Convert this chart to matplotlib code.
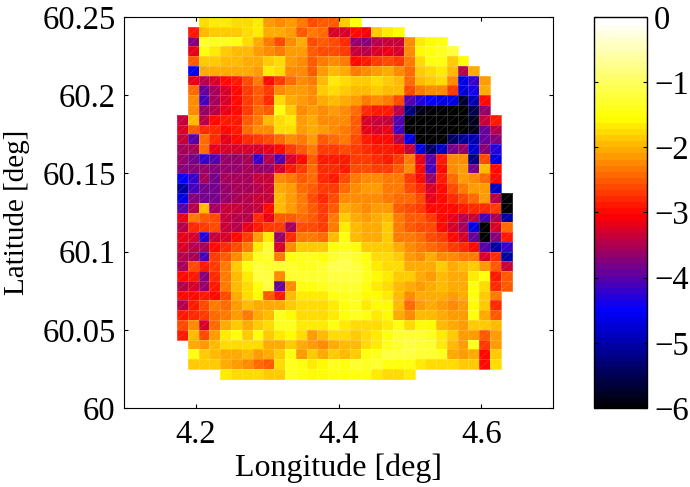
import numpy as np
import matplotlib
matplotlib.use('Agg')
import matplotlib.pyplot as plt
from matplotlib.colors import LinearSegmentedColormap
from matplotlib.collections import LineCollection

plt.rcParams['font.family'] = ['Liberation Serif', 'DejaVu Serif']

# grid of the map
lon_start = 4.1741
lon_step = 0.0151
lat_top = 60.25
lat_step = 0.00625
n_cols = 31

# first filled column of each row, from the top row down
first_col = [2] + [1] * 9 + [0] * 23 + [1] * 3 + [4]

# log values, top row first
rows = [
    [-1.75,-1.6,-1.65,-1.7,-1.7,-1.6,-2.1,-2.2,-2.15,-2.3,-2.6,-2.5,-2.5,-1.8,-1.5],
    [-2.9,-1.9,-1.8,-1.85,-1.8,-1.75,-1.65,-2.0,-2.0,-2.1,-2.5,-2.3,-2.4,-3.2,-3.2,-3.0,-3.05,-1.8,-1.6,-1.55],
    [-3.7,-1.3,-1.35,-1.4,-1.45,-1.7,-2.0,-2.3,-2.55,-2.2,-2.0,-2.6,-2.5,-2.6,-2.75,-3.6,-3.7,-3.4,-3.3,-3.3,-2.2,-1.6,-1.55,-1.45],
    [-3.1,-1.5,-1.6,-1.85,-1.9,-1.9,-2.1,-2.2,-2.3,-2.1,-2.1,-2.5,-2.6,-2.6,-2.7,-3.3,-3.4,-3.2,-3.15,-3.2,-2.2,-1.55,-1.5,-1.4,-1.2],
    [-2.5,-1.8,-1.85,-1.95,-1.95,-2.0,-2.0,-1.85,-1.75,-2.1,-2.2,-2.5,-2.3,-2.2,-2.3,-2.95,-2.9,-2.7,-2.6,-2.7,-2.3,-1.7,-1.5,-1.5,-1.85,-1.55],
    [-4.55,-2.0,-2.0,-2.05,-2.0,-2.05,-2.1,-1.6,-1.7,-2.2,-2.2,-2.5,-2.1,-1.9,-2.0,-2.3,-2.2,-2.1,-2.05,-2.2,-2.4,-1.8,-1.7,-1.6,-1.9,-3.4,-2.0],
    [-3.1,-3.4,-3.2,-3.0,-2.9,-2.6,-2.3,-3.0,-2.7,-2.4,-2.2,-2.3,-1.9,-1.6,-1.75,-1.8,-1.85,-1.75,-1.8,-1.9,-2.4,-1.9,-1.85,-1.75,-2.2,-4.6,-4.2,-2.1],
    [-2.4,-3.9,-3.5,-3.2,-3.0,-2.7,-2.5,-2.7,-2.2,-2.1,-2.1,-2.2,-1.8,-1.7,-1.85,-1.95,-1.9,-1.85,-1.9,-1.95,-2.6,-2.3,-2.2,-2.2,-2.7,-4.7,-4.4,-2.0],
    [-2.2,-4.1,-3.5,-3.2,-3.0,-2.7,-2.5,-2.8,-1.75,-2.05,-2.1,-2.2,-2.0,-1.9,-2.0,-2.1,-2.3,-2.2,-2.3,-2.6,-4.0,-4.3,-4.5,-4.6,-4.6,-5.7,-4.9,-3.0],
    [-2.2,-3.6,-3.4,-3.15,-2.95,-2.7,-2.4,-2.5,-1.5,-1.85,-2.2,-2.1,-2.2,-2.1,-2.2,-2.4,-2.8,-2.85,-2.9,-3.4,-5.2,-5.9,-6,-6,-6,-6,-5.5,-3.6],
    [-3.3,-1.9,-3.4,-3.0,-2.9,-2.9,-2.5,-2.3,-1.95,-1.7,-1.65,-2.1,-2.0,-2.2,-2.2,-2.2,-2.5,-3.2,-3.3,-3.3,-4.0,-6,-6,-6,-6,-6,-6,-5.8,-3.3,-2.9],
    [-3.2,-2.5,-2.8,-2.8,-2.95,-2.9,-2.4,-2.2,-2.2,-1.75,-1.75,-2.1,-2.0,-2.1,-2.2,-2.3,-2.5,-3.1,-3.2,-3.1,-4.1,-6,-6,-6,-6,-6,-6,-5.9,-3.9,-3.4],
    [-3.3,-4.0,-2.4,-2.8,-3.1,-3.0,-2.8,-2.7,-2.6,-2.4,-2.2,-2.3,-2.1,-2.5,-2.4,-2.3,-2.6,-2.9,-3.0,-3.0,-3.4,-4.6,-6,-6,-6,-5.4,-5.1,-4.9,-3.9,-3.7],
    [-3.5,-3.5,-2.4,-3.1,-3.2,-3.2,-3.2,-3.2,-3.1,-2.95,-2.7,-2.5,-2.3,-2.7,-2.7,-2.6,-2.7,-2.8,-2.9,-2.9,-3.0,-3.3,-4.6,-5.4,-4.8,-3.8,-3.6,-4.7,-3.7,-4.3],
    [-3.6,-3.8,-4.2,-4.0,-3.6,-3.6,-3.5,-4.2,-3.4,-4.0,-3.2,-3.0,-2.5,-2.9,-2.9,-2.85,-2.7,-2.7,-2.8,-2.85,-2.7,-2.3,-3.1,-4.0,-2.9,-2.2,-2.2,-5.2,-2.6,-4.6],
    [-3.7,-3.7,-3.6,-3.7,-3.6,-3.6,-3.5,-3.6,-3.6,-3.2,-2.9,-2.7,-2.4,-2.8,-2.8,-2.9,-2.6,-2.6,-2.7,-2.7,-2.5,-2.2,-3.0,-4.1,-2.95,-2.2,-2.1,-3.8,-1.9,-3.0],
    [-4.5,-4.2,-3.5,-3.8,-3.5,-3.5,-3.5,-3.3,-3.3,-2.2,-2.3,-2.5,-2.4,-2.8,-2.85,-2.6,-2.3,-2.2,-2.2,-2.3,-2.3,-2.7,-2.95,-3.6,-2.9,-2.4,-2.1,-2.2,-2.4,-3.0],
    [-5.0,-4.1,-3.8,-3.8,-3.6,-3.5,-3.5,-3.4,-3.3,-2.0,-2.1,-2.4,-2.5,-2.7,-2.7,-2.4,-2.2,-2.1,-2.15,-2.3,-2.3,-2.6,-2.8,-3.2,-3.0,-2.6,-2.3,-2.1,-2.1,-4.8],
    [-4.6,-3.7,-3.8,-3.8,-3.6,-3.5,-3.4,-3.3,-3.3,-1.9,-2.1,-2.3,-2.6,-2.8,-2.6,-2.25,-2.2,-2.25,-2.2,-2.3,-2.4,-2.4,-2.6,-3.1,-2.95,-2.75,-2.55,-2.35,-2.1,-3.4,-6],
    [-4.0,-3.4,-1.9,-3.5,-3.3,-3.3,-3.4,-3.3,-3.0,-1.9,-2.1,-2.3,-2.5,-2.7,-2.5,-2.0,-2.1,-2.2,-2.15,-2.1,-2.5,-2.6,-2.7,-3.0,-3.0,-3.0,-2.9,-2.8,-2.8,-2.7,-6],
    [-3.1,-2.3,-2.5,-2.6,-3.3,-3.4,-3.4,-2.8,-3.1,-2.5,-2.5,-2.4,-2.5,-2.7,-2.3,-1.85,-2.0,-2.1,-2.0,-1.9,-2.3,-2.5,-2.5,-2.7,-2.95,-3.15,-3.4,-3.3,-4.1,-3.5,-5.0],
    [-3.4,-2.8,-2.7,-2.6,-3.3,-3.4,-3.1,-2.9,-2.7,-2.7,-3.5,-2.6,-2.6,-2.7,-2.3,-1.65,-1.95,-2.05,-2.0,-1.85,-2.3,-2.5,-2.55,-2.6,-2.95,-3.2,-3.5,-4.6,-6,-3.2,-2.4],
    [-3.1,-3.2,-4.3,-3.3,-3.2,-3.0,-2.7,-2.1,-1.6,-3.6,-2.8,-2.3,-2.3,-2.4,-1.9,-1.5,-1.9,-2.05,-2.0,-1.85,-2.3,-2.3,-2.4,-2.6,-2.7,-2.95,-3.2,-3.9,-6,-3.7,-2.9],
    [-3.2,-3.4,-3.5,-3.0,-2.8,-2.6,-2.3,-1.6,-1.3,-3.2,-2.2,-1.8,-1.85,-1.8,-1.5,-1.35,-1.45,-1.8,-1.85,-1.85,-2.0,-2.2,-2.3,-2.4,-2.5,-2.7,-2.8,-2.95,-4.0,-5.0,-4.2],
    [-3.4,-3.5,-4.1,-2.7,-2.5,-2.2,-1.8,-1.35,-1.3,-2.3,-1.5,-1.4,-1.4,-1.45,-1.3,-1.2,-1.25,-1.45,-1.7,-1.75,-1.85,-2.1,-2.2,-2.0,-2.2,-2.2,-2.3,-2.3,-3.2,-2.8,-5.0],
    [-3.5,-2.6,-2.9,-2.7,-2.3,-1.85,-1.5,-1.15,-1.3,-1.3,-1.25,-1.35,-1.35,-1.25,-1.1,-1.1,-1.15,-1.4,-1.6,-1.7,-1.75,-2.0,-2.05,-2.0,-1.85,-2.0,-1.95,-1.8,-2.1,-2.5,-3.3],
    [-2.95,-2.9,-3.7,-2.8,-2.3,-1.9,-1.65,-1.2,-1.15,-2.2,-1.3,-1.3,-1.3,-1.3,-1.15,-1.2,-1.2,-1.4,-1.55,-1.6,-1.8,-1.85,-2.0,-2.1,-1.95,-2.0,-2.0,-1.6,-1.5,-2.9,-2.45],
    [-3.4,-3.2,-3.6,-2.9,-2.3,-1.95,-1.7,-1.45,-1.2,-3.9,-2.2,-1.5,-1.5,-1.4,-1.3,-1.3,-1.3,-1.5,-1.6,-1.75,-1.9,-2.0,-2.1,-2.0,-1.95,-2.05,-2.05,-1.5,-1.75,-2.8,-2.45],
    [-3.0,-3.0,-2.9,-3.0,-2.6,-2.05,-1.75,-1.55,-2.5,-2.9,-1.9,-1.65,-1.65,-1.6,-1.5,-1.4,-1.35,-1.55,-1.55,-1.6,-1.9,-2.2,-2.0,-2.0,-2.0,-2.1,-2.05,-1.5,-1.85,-2.3],
    [-3.4,-2.9,-2.6,-2.3,-2.4,-2.1,-1.9,-2.0,-2.0,-2.0,-1.8,-1.75,-1.7,-1.7,-1.65,-1.5,-1.4,-1.6,-1.55,-1.55,-1.9,-2.4,-2.1,-2.05,-2.1,-2.2,-2.15,-1.55,-1.85,-2.8],
    [-2.9,-2.8,-2.7,-2.4,-2.3,-2.1,-2.3,-2.0,-1.95,-1.4,-1.55,-1.7,-1.75,-1.7,-1.6,-1.5,-1.4,-1.5,-1.6,-1.55,-2.0,-2.2,-1.95,-1.9,-2.05,-2.15,-2.15,-1.5,-2.0,-2.5],
    [-2.6,-2.2,-3.2,-2.4,-2.0,-1.85,-2.0,-1.8,-1.75,-1.35,-1.4,-1.65,-1.65,-1.6,-1.45,-1.6,-1.7,-1.75,-1.7,-1.6,-1.5,-1.7,-1.55,-1.55,-1.95,-2.0,-2.15,-1.85,-1.8,-1.9],
    [-2.9,-1.9,-2.6,-2.1,-1.65,-1.5,-1.8,-1.5,-1.8,-1.6,-1.55,-1.75,-2.1,-1.9,-1.7,-1.75,-1.85,-1.7,-1.6,-1.45,-1.3,-1.25,-1.3,-1.4,-1.6,-1.85,-2.1,-2.1,-2.5,-2.1],
    [-2.0,-2.1,-1.95,-1.7,-1.7,-1.7,-1.7,-2.0,-2.0,-1.85,-2.0,-2.1,-2.2,-2.0,-1.9,-1.95,-1.75,-1.6,-1.4,-1.25,-1.2,-1.25,-1.3,-1.65,-1.95,-2.15,-1.35,-2.7,-2.1],
    [-1.45,-1.85,-1.9,-2.0,-2.0,-1.9,-2.1,-2.0,-1.8,-1.5,-2.1,-1.8,-2.05,-1.85,-1.95,-1.8,-1.5,-1.35,-1.2,-1.15,-1.2,-1.3,-1.3,-1.35,-2.0,-2.1,-2.05,-2.95,-1.85],
    [-1.85,-1.8,-1.85,-2.0,-2.1,-2.2,-2.4,-2.5,-1.75,-1.4,-1.45,-1.6,-1.55,-1.4,-1.45,-1.3,-1.35,-1.3,-1.45,-1.45,-1.5,-1.6,-1.7,-1.7,-1.75,-1.8,-1.85,-3.0,-1.75],
    [-1.6,-1.7,-1.7,-1.75,-1.8,-1.8,-1.4,-1.5,-1.55,-1.55,-1.5,-1.5,-1.5,-1.5,-1.65,-1.7,-1.7,-1.65],
]

lon_ticks = [4.2, 4.4, 4.6]
lat_ticks = [60, 60.05, 60.1, 60.15, 60.2, 60.25]
lat_labels = ['60', '60.05', '60.1', '60.15', '60.2', '60.25']
cbar_ticks = [-6, -5, -4, -3, -2, -1, 0]

# same colours as the bar: black, blue, red, yellow, white in 64 steps
cmap = LinearSegmentedColormap.from_list(
    'bryw', ['#000000', '#0000ff', '#ff0000', '#ffff00', '#ffffff'], N=64)

grid = np.full((len(rows), n_cols), np.nan)
for j, row in enumerate(rows):
    grid[j, first_col[j]:first_col[j] + len(row)] = row

x_edges = lon_start + lon_step * np.arange(n_cols + 1)
y_edges = lat_top - lat_step * np.arange(len(rows) + 1)

fig = plt.figure(figsize=(6.9, 4.87), dpi=100)
W, H = 690.0, 487.0
ax = fig.add_axes([124 / W, 1 - 408 / H, (553 - 124) / W, (408 - 17) / H])
mesh = ax.pcolormesh(x_edges, y_edges, grid, cmap=cmap, vmin=-6, vmax=0,
                     edgecolors=(1, 1, 1, 0.18), linewidth=0.5)

# faint diagonals across the cells
segs = []
for j in range(grid.shape[0]):
    for i in range(grid.shape[1]):
        if not np.isnan(grid[j, i]):
            segs.append([(x_edges[i], y_edges[j + 1]), (x_edges[i + 1], y_edges[j])])
ax.add_collection(LineCollection(segs, colors=[(1, 1, 1, 0.2)], linewidths=0.4))

ax.set_xlim(4.1, 4.7)
ax.set_ylim(60, 60.25)
ax.set_xticks(lon_ticks)
ax.set_xticklabels(['4.2', '4.4', '4.6'])
ax.set_yticks(lat_ticks)
ax.set_yticklabels(lat_labels)
ax.tick_params(direction='in', top=True, right=True, length=3, width=0.8,
               labelsize=23.5, pad=6)
ax.tick_params(axis='x', pad=8)
ax.set_xlabel('Longitude [deg]', fontsize=23, labelpad=3)
ax.set_ylabel('Latitude [deg]', fontsize=21, labelpad=9)

cax = fig.add_axes([594 / W, 1 - 408 / H, (647 - 594) / W, (408 - 17) / H])
cbar = fig.colorbar(mesh, cax=cax, ticks=cbar_ticks)
cbar.solids.set_edgecolor('face')
cax.tick_params(direction='in', left=True, right=True, length=3, width=0.8,
                labelsize=23.5, pad=5)
cbar.outline.set_linewidth(1.0)

fig.savefig('out.png', dpi=100)
